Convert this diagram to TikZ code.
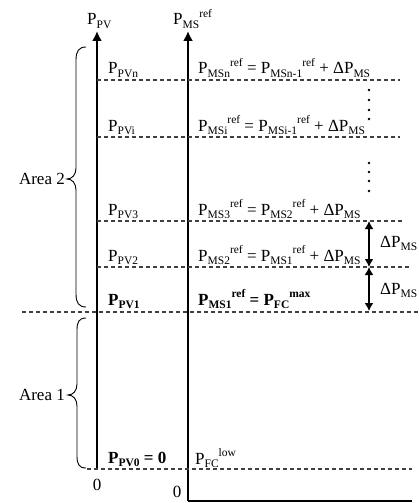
\documentclass[tikz,border=0pt]{standalone}
\usepackage{fontspec}
\setmainfont{Liberation Serif}
\usetikzlibrary{arrows.meta}
\newcommand\sbx[1]{\raisebox{-0.22em}{\fontsize{11.5}{12}\selectfont #1}}
\newcommand\spx[1]{\raisebox{0.42em}{\fontsize{11.5}{12}\selectfont #1}}
\tikzset{
  lbl/.style={anchor=base west, inner sep=0pt, font=\fontsize{17}{20}\selectfont},
  dl/.style={dash pattern=on 4pt off 3pt, line width=1.1pt, draw=black!75},
  axis/.style={line width=2.4pt, -{Latex[length=10pt,width=10pt]}},
  dbl/.style={line width=1.5pt, {Latex[length=8pt,width=9pt]}-{Latex[length=8pt,width=9pt]}},
  brc/.style={line width=0.9pt},
  vdot/.style={fill=black, circle, inner sep=0pt, minimum size=2.8pt}
}
\begin{document}
\begin{tikzpicture}[x=1pt,y=-1pt]
\useasboundingbox (0,0) rectangle (419,503);
% axes
\coordinate (pvb) at (97,469);
\coordinate (pvt) at (97,31);
\coordinate (msb) at (188,501);
\coordinate (mst) at (188,31);
\coordinate (hr) at (412,501);
\draw[axis] (pvb) -- (pvt);
\draw[axis] (msb) -- (mst);
\draw[line width=1.6pt] (msb) -- (hr);
\node[lbl] (lpv) at (87,25) {P\sbx{PV}};
\node[lbl] (lms) at (173,25) {P\sbx{MS}\spx{ref}};
% dashed levels
\coordinate (dna) at (97,80);  \coordinate (dnb) at (400,80);
\coordinate (dia) at (97,137); \coordinate (dib) at (400,137);
\coordinate (d3a) at (97,221); \coordinate (d3b) at (402,221);
\coordinate (d2a) at (97,267); \coordinate (d2b) at (410,267);
\coordinate (d1a) at (22,312); \coordinate (d1b) at (419,312);
\coordinate (d0a) at (87,469); \coordinate (d0b) at (412,469);
\draw[dl] (dna) -- (dnb);
\draw[dl] (dia) -- (dib);
\draw[dl] (d3a) -- (d3b);
\draw[dl] (d2a) -- (d2b);
\draw[dl] (d1a) -- (d1b);
\draw[dl] (d0a) -- (d0b);
% left labels
\node[lbl] (pvn) at (108,74) {P\sbx{PVn}};
\node[lbl] (pvi) at (108,131) {P\sbx{PVi}};
\node[lbl] (pv3) at (108,215) {P\sbx{PV3}};
\node[lbl] (pv2) at (108,261) {P\sbx{PV2}};
\node[lbl] (pv1) at (108,305) {\bfseries P\sbx{PV1}};
\node[lbl] (pv0) at (108,463) {\bfseries P\sbx{PV0} = 0};
% right labels
\node[lbl] (msn) at (198,74) {P\sbx{MSn}\spx{ref} = P\sbx{MSn-1}\spx{ref} + ΔP\sbx{MS}};
\node[lbl] (msi) at (198,131) {P\sbx{MSi}\spx{ref} = P\sbx{MSi-1}\spx{ref} + ΔP\sbx{MS}};
\node[lbl] (ms3) at (198,215) {P\sbx{MS3}\spx{ref} = P\sbx{MS2}\spx{ref} + ΔP\sbx{MS}};
\node[lbl] (ms2) at (198,261) {P\sbx{MS2}\spx{ref} = P\sbx{MS1}\spx{ref} + ΔP\sbx{MS}};
\node[lbl] (ms1) at (198,305) {\bfseries P\sbx{MS1}\spx{ref} = P\sbx{FC}\spx{max}};
\node[lbl] (fcl) at (195,464) {P\sbx{FC}\spx{low}};
% zeros
\node[lbl, anchor=center] (z1) at (97,485) {0};
\node[lbl, anchor=south] (z2) at (177,498) {0};
% vertical dots
\foreach \yy [count=\k] in {90,100,110,119} \node[vdot] (va\k) at (369,\yy) {};
\foreach \yy [count=\k] in {163,172,181,191} \node[vdot] (vb\k) at (369,\yy) {};
% delta arrows
\coordinate (a3) at (369,221);
\coordinate (a2) at (369,267);
\coordinate (a1) at (369,311);
\draw[dbl] (a3) -- (a2);
\draw[dbl] (a2) -- (a1);
\node[lbl] (dm1) at (380,247) {ΔP\sbx{MS}};
\node[lbl] (dm2) at (380,294) {ΔP\sbx{MS}};
% braces
\draw[brc] (86,47) .. controls (79,47) and (76,51) .. (76,60) -- (76,168)
  .. controls (76,175) and (72,179) .. (67,179)
  .. controls (72,179) and (76,183) .. (76,190) -- (76,294)
  .. controls (76,303) and (79,307) .. (86,307);
\draw[brc] (86,318) .. controls (79,318) and (77,322) .. (77,330) -- (77,384)
  .. controls (77,391) and (73,395) .. (68,395)
  .. controls (73,395) and (77,399) .. (77,406) -- (77,456)
  .. controls (77,464) and (79,468) .. (86,468);
\node[lbl, anchor=east] (ar2) at (65,179) {Area 2};
\node[lbl, anchor=east] (ar1) at (65,395) {Area 1};
\end{tikzpicture}
\end{document}
